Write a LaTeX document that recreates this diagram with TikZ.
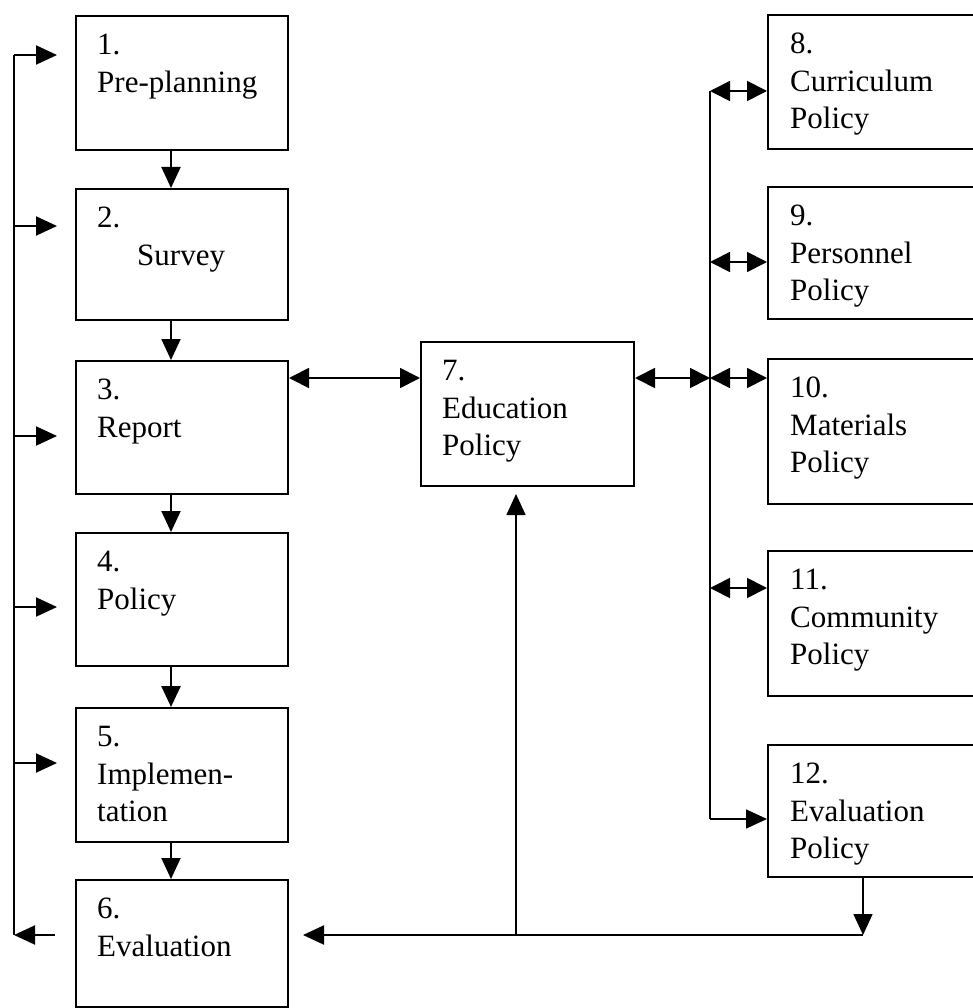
\documentclass[tikz,border=0pt]{standalone}
\usepackage{fontspec}
\setmainfont{Liberation Serif}
\usetikzlibrary{arrows.meta,calc}
\begin{document}
\begin{tikzpicture}[x=1pt,y=-1pt,
  box/.style={draw, line width=2pt, inner sep=0pt, anchor=north west},
  lbl/.style={anchor=north west, align=left, inner sep=0pt, font=\fontsize{31}{37.5}\selectfont},
  arr/.style={line width=2pt, -{Triangle[length=21pt,width=19pt]}},
  darr/.style={line width=1.8pt, {Triangle[length=20pt,width=20pt]}-{Triangle[length=20pt,width=20pt]}},
  busline/.style={line width=1.6pt},
  fbline/.style={line width=2.6pt}]
\clip (0,0) rectangle (973,1008);
% left column
\node[box, minimum width=212pt, minimum height=134pt] (b1) at (75,15) {};
\node[box, minimum width=212pt, minimum height=131pt] (b2) at (75,188) {};
\node[box, minimum width=212pt, minimum height=133pt] (b3) at (75,360) {};
\node[box, minimum width=212pt, minimum height=133pt] (b4) at (75,532) {};
\node[box, minimum width=212pt, minimum height=134pt] (b5) at (75,707) {};
\node[box, minimum width=212pt, minimum height=127pt] (b6) at (75,879) {};
% centre
\node[box, minimum width=213pt, minimum height=144pt] (b7) at (420,341) {};
% right column
\node[box, minimum width=223pt, minimum height=134pt] (b8) at (767,14) {};
\node[box, minimum width=223pt, minimum height=132pt] (b9) at (767,186) {};
\node[box, minimum width=223pt, minimum height=145pt] (b10) at (767,358) {};
\node[box, minimum width=223pt, minimum height=145pt] (b11) at (767,550) {};
\node[box, minimum width=223pt, minimum height=132pt] (b12) at (767,744) {};
% labels
\node[lbl] (t1) at ($(b1.north west)+(22,19)$) {1.\\Pre-planning};
\node[lbl] (t2) at ($(b2.north west)+(22,19)$) {2.\\\hspace*{40pt}Survey};
\node[lbl] (t3) at ($(b3.north west)+(22,19)$) {3.\\Report};
\node[lbl] (t4) at ($(b4.north west)+(22,19)$) {4.\\Policy};
\node[lbl] (t5) at ($(b5.north west)+(22,19)$) {5.\\Implemen-\\tation};
\node[lbl] (t6) at ($(b6.north west)+(22,19)$) {6.\\Evaluation};
\node[lbl] (t7) at ($(b7.north west)+(22,19)$) {7.\\Education\\Policy};
\node[lbl] (t8) at ($(b8.north west)+(23,19)$) {8.\\Curriculum\\Policy};
\node[lbl] (t9) at ($(b9.north west)+(23,19)$) {9.\\Personnel\\Policy};
\node[lbl] (t10) at ($(b10.north west)+(23,19)$) {10.\\Materials\\Policy};
\node[lbl] (t11) at ($(b11.north west)+(23,19)$) {11.\\Community\\Policy};
\node[lbl] (t12) at ($(b12.north west)+(23,19)$) {12.\\Evaluation\\Policy};
% vertical flow
\coordinate (cx) at (171,0);
\draw[arr] (b1.south -| cx) -- (b2.north -| cx);
\draw[arr] (b2.south -| cx) -- (b3.north -| cx);
\draw[arr] (b3.south -| cx) -- (b4.north -| cx);
\draw[arr, line width=2.6pt] (b4.south -| cx) -- (b5.north -| cx);
\draw[arr] (b5.south -| cx) -- (b6.north -| cx);
% feedback line on the left
\coordinate (fbtop) at (14,55);
\coordinate (fbbot) at (14,935);
\coordinate (a1) at (57,55);
\coordinate (a2) at (57,226);
\coordinate (a3) at (57,436);
\coordinate (a4) at (57,607);
\coordinate (a5) at (57,763);
\coordinate (e6) at (55,935);
\draw[fbline] (fbtop) -- (fbbot);
\draw[arr] (fbtop) -- (a1);
\draw[arr] (fbtop |- a2) -- (a2);
\draw[arr] (fbtop |- a3) -- (a3);
\draw[arr] (fbtop |- a4) -- (a4);
\draw[arr] (fbtop |- a5) -- (a5);
\draw[arr] (e6) -- (fbbot);
% report <-> education policy
\coordinate (m) at (0,378);
\draw[darr] (b3.east |- m) -- (b7.west |- m);
% bus on the right
\coordinate (bustop) at (710,91);
\coordinate (busbot) at (710,819);
\coordinate (y9) at (0,262);
\coordinate (y11) at (0,588);
\draw[darr] (b7.east |- m) -- (bustop |- m);
\draw[busline] (bustop) -- (busbot);
\draw[darr] (bustop) -- (b8.west |- bustop);
\draw[darr] (bustop |- y9) -- (b9.west |- y9);
\draw[darr] (bustop |- m) -- (b10.west |- m);
\draw[darr] (bustop |- y11) -- (b11.west |- y11);
\draw[arr, line width=1.6pt] (busbot) -- (b12.west |- busbot);
% bottom return
\coordinate (d12) at (863,935);
\coordinate (tip6) at (303,935);
\coordinate (up) at (516,935);
\coordinate (uptip) at (516,494);
\draw[arr, line width=1.6pt] (b12.south -| d12) -- (d12);
\draw[arr] (d12) -- (tip6);
\draw[arr, line width=1.6pt] (up) -- (uptip);
\end{tikzpicture}
\end{document}
